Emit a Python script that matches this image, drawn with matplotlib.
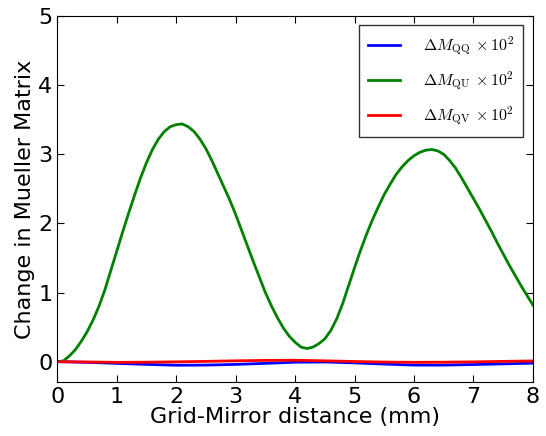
import matplotlib
matplotlib.use("Agg")
import matplotlib.pyplot as plt

plt.rcParams['mathtext.fontset'] = 'cm'

# green curve (Delta M_QU), read at 0.1 mm steps
x_qu = [i / 10 for i in range(81)]
m_qu = [0.00, 0.01, 0.08, 0.17, 0.29, 0.43, 0.60, 0.80, 1.04, 1.32,
        1.60, 1.88, 2.15, 2.41, 2.66, 2.88, 3.07, 3.22, 3.33, 3.40,
        3.43, 3.44, 3.40, 3.33, 3.22, 3.08, 2.91, 2.72, 2.53, 2.34,
        2.13, 1.90, 1.67, 1.44, 1.22, 1.00, 0.81, 0.64, 0.49, 0.37,
        0.28, 0.21, 0.19, 0.21, 0.26, 0.33, 0.45, 0.62, 0.84, 1.10,
        1.36, 1.61, 1.84, 2.05, 2.24, 2.42, 2.57, 2.71, 2.82, 2.91,
        2.98, 3.03, 3.06, 3.07, 3.05, 3.00, 2.91, 2.80, 2.66, 2.51,
        2.36, 2.21, 2.05, 1.89, 1.72, 1.56, 1.40, 1.25, 1.10, 0.96,
        0.82]

# small curves, read at 0.5 mm steps
x_small = [0.0, 0.5, 1.0, 1.5, 2.0, 2.5, 3.0, 3.5, 4.0, 4.5, 5.0, 5.5,
           6.0, 6.5, 7.0, 7.5, 8.0]
m_qq = [0.0, -0.01, -0.025, -0.04, -0.052, -0.05, -0.04, -0.025, -0.008,
        -0.005, -0.018, -0.035, -0.05, -0.05, -0.042, -0.032, -0.022]
m_qv = [0.0, -0.005, -0.01, -0.008, -0.003, 0.004, 0.012, 0.018, 0.02,
        0.012, 0.002, -0.006, -0.01, -0.008, -0.003, 0.004, 0.01]

labels = [r'$\Delta M_{\mathrm{QQ}}\,\times 10^2$',
          r'$\Delta M_{\mathrm{QU}}\,\times 10^2$',
          r'$\Delta M_{\mathrm{QV}}\,\times 10^2$']

fig = plt.figure(figsize=(5.46, 4.36), dpi=100)
ax = fig.add_axes([0.105, 0.123, 0.871, 0.840])

ax.plot(x_small, m_qq, color='b', linewidth=2, label=labels[0])
ax.plot(x_qu, m_qu, color='g', linewidth=2, label=labels[1])
ax.plot(x_small, m_qv, color='r', linewidth=2, label=labels[2])

ax.set_xlim(0, 8)
ax.set_ylim(-0.3, 5)
ax.set_xticks(range(0, 9))
ax.set_yticks(range(0, 6))
ax.tick_params(direction='in', top=True, right=True, length=5, labelsize=16)
ax.set_xlabel('Grid-Mirror distance (mm)', fontsize=16, labelpad=0)
ax.set_ylabel('Change in Mueller Matrix', fontsize=16, labelpad=2)

leg = ax.legend(loc='upper right', fontsize=11.5, fancybox=False, edgecolor='black',
                handlelength=2.0, handletextpad=1.4, borderpad=0.6, labelspacing=0.75,
                borderaxespad=0, bbox_to_anchor=(0.98, 0.975))
leg.get_frame().set_linewidth(1.0)

fig.savefig('out.png', dpi=100)
